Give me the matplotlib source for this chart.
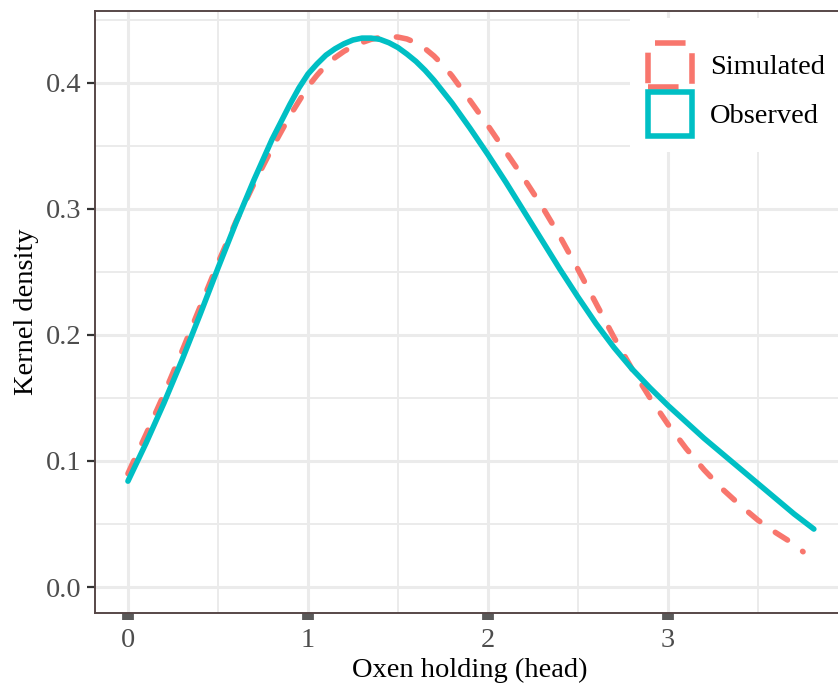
import numpy as np
import matplotlib.pyplot as plt
from matplotlib.patches import Patch, Rectangle

# kernel density curves
obs_x = [0.0, 0.1, 0.2, 0.3, 0.4, 0.5, 0.6, 0.7, 0.8, 0.9, 0.95, 1.0, 1.05,
         1.1, 1.15, 1.2, 1.25, 1.3, 1.35, 1.4, 1.45, 1.5, 1.55, 1.6, 1.65, 1.7,
         1.8, 1.9, 2.0, 2.1, 2.2, 2.3, 2.4, 2.5, 2.6, 2.7, 2.8, 2.9, 3.0, 3.1,
         3.2, 3.3, 3.4, 3.5, 3.6, 3.7, 3.81]
obs_y = [0.084, 0.114, 0.146, 0.180, 0.216, 0.253, 0.289, 0.323, 0.355, 0.383,
         0.396, 0.407, 0.415, 0.422, 0.427, 0.431, 0.434, 0.4355, 0.4355, 0.4345,
         0.4318, 0.428, 0.4228, 0.417, 0.410, 0.402, 0.384, 0.364, 0.343, 0.321,
         0.298, 0.275, 0.252, 0.230, 0.209, 0.190, 0.173, 0.158, 0.144, 0.131,
         0.118, 0.106, 0.094, 0.082, 0.070, 0.058, 0.046]

sim_x = [0.0, 0.1, 0.2, 0.3, 0.4, 0.5, 0.6, 0.7, 0.8, 0.9, 1.0, 1.05, 1.1,
         1.15, 1.2, 1.25, 1.3, 1.35, 1.4, 1.45, 1.5, 1.55, 1.6, 1.65, 1.7, 1.75,
         1.8, 1.9, 2.0, 2.1, 2.2, 2.3, 2.4, 2.5, 2.6, 2.7, 2.8, 2.9, 3.0, 3.1,
         3.2, 3.3, 3.4, 3.5, 3.6, 3.7, 3.75]
sim_y = [0.090, 0.121, 0.153, 0.187, 0.222, 0.257, 0.290, 0.320, 0.348, 0.374,
         0.397, 0.406, 0.414, 0.420, 0.425, 0.429, 0.432, 0.4345, 0.436, 0.4367,
         0.4363, 0.4348, 0.4318, 0.4272, 0.4213, 0.414, 0.4055, 0.386, 0.366,
         0.345, 0.324, 0.302, 0.278, 0.252, 0.225, 0.198, 0.173, 0.150, 0.129,
         0.110, 0.093, 0.078, 0.065, 0.053, 0.043, 0.034, 0.028]

labels = ['Simulated', 'Observed']
colors = ['#F8766D', '#00BFC4']

plt.rcParams['font.family'] = ['Liberation Serif', 'DejaVu Serif']
fs = 20.5
lw = 4.0

fig = plt.figure(figsize=(8.38, 6.86), dpi=100)
ax = fig.add_axes([95 / 838, 73 / 686, 750 / 838, 602 / 686])

ax.plot(sim_x, sim_y, color=colors[0], lw=lw, dashes=(2.6, 3.4),
        dash_capstyle='round', solid_capstyle='round', zorder=3)
ax.plot(obs_x, obs_y, color=colors[1], lw=lw, solid_capstyle='round', zorder=4)

ax.set_xlim(-0.183, 3.983)
ax.set_ylim(-0.0206, 0.457)
ax.set_xticks([0, 1, 2, 3])
ax.set_xticks([0.5, 1.5, 2.5, 3.5], minor=True)
ax.set_yticks([0.0, 0.1, 0.2, 0.3, 0.4])
ax.set_yticks([0.05, 0.15, 0.25, 0.35, 0.45], minor=True)
ax.set_yticklabels(['0.0', '0.1', '0.2', '0.3', '0.4'])

ax.grid(which='major', color='#ebebeb', lw=2.2, zorder=0)
ax.grid(which='minor', color='#ebebeb', lw=1.4, zorder=0)
ax.set_axisbelow(True)

for s in ax.spines.values():
    s.set_color('#574747')
    s.set_linewidth(1.4)

ax.tick_params(axis='x', which='major', length=5, width=8.5, color='#5a5a5a',
               labelsize=fs, labelcolor='#4d4d4d', pad=6)
ax.tick_params(axis='y', which='major', length=6, width=1.6, color='#333333',
               labelsize=fs, labelcolor='#4d4d4d', pad=4)
ax.tick_params(which='minor', length=0)

ax.set_xlabel('Oxen holding (head)', fontsize=fs, color='black', labelpad=3)
ax.set_ylabel('Kernel density', fontsize=fs, color='black', labelpad=5)

# white legend background sitting over the grid
ax.add_patch(Rectangle((630 / 838, 1 - 152 / 686), 220 / 838, 134 / 686,
                       transform=fig.transFigure, facecolor='white',
                       edgecolor='none', zorder=2))

handles = [Patch(facecolor='none', edgecolor=colors[0], lw=lw, linestyle=(0, (5.5, 3))),
           Patch(facecolor='none', edgecolor=colors[1], lw=lw)]
leg = ax.legend(handles, labels, loc='upper left',
                bbox_to_anchor=(648 / 838, 1 - 43 / 686), bbox_transform=fig.transFigure,
                fontsize=fs, frameon=False, borderpad=0,
                handlelength=1.55, handleheight=2.0, labelspacing=0.16,
                handletextpad=0.63, borderaxespad=0)
leg.set_zorder(5)

fig.savefig('out.png', dpi=100)
